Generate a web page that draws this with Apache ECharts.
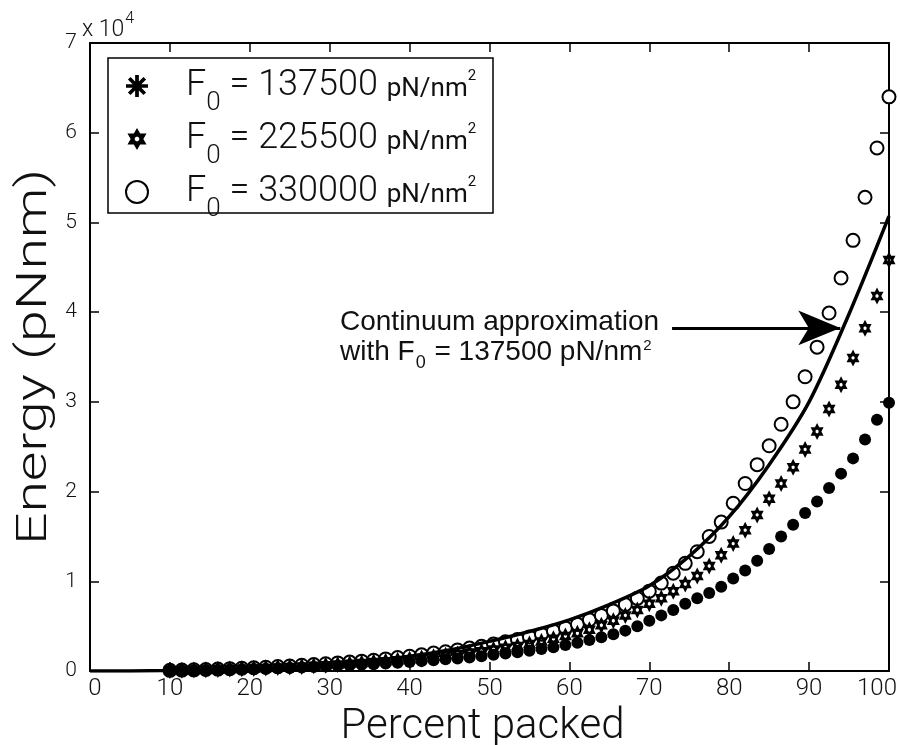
<!DOCTYPE html>
<html>
<head>
<meta charset="utf-8">
<script src="https://cdn.jsdelivr.net/npm/echarts@6/dist/echarts.min.js"></script>
<style>html,body{margin:0;padding:0;background:#fff}#chart{width:900px;height:745px}</style>
</head>
<body>
<div id="chart"></div>
<script>
// ---- data (energy in pNnm) ----
const percentPacked = [10, 11.5, 13, 14.5, 16, 17.5, 19, 20.5, 22, 23.5, 25, 26.5, 28, 29.5, 31, 32.5, 34, 35.5, 37, 38.5, 40,
  41.5, 43, 44.5, 46, 47.5, 49, 50.5, 52, 53.5, 55, 56.5, 58, 59.5, 61, 62.5, 64, 65.5, 67, 68.5, 70,
  71.5, 73, 74.5, 76, 77.5, 79, 80.5, 82, 83.5, 85, 86.5, 88, 89.5, 91, 92.5, 94, 95.5, 97, 98.5, 100];
const energyF137500 = [50, 70, 90, 110, 130, 160, 190, 220, 260, 300, 340, 390, 440, 500, 560, 620, 690, 760, 840, 920, 1000,
  1100, 1200, 1300, 1400, 1500, 1650, 1800, 1950, 2100, 2250, 2450, 2650, 2900, 3150, 3450, 3750, 4100, 4500, 5000, 5600,
  6200, 6800, 7500, 8100, 8700, 9400, 10300, 11200, 12300, 13600, 15000, 16300, 17600, 18900, 20400, 22000, 23700, 25800, 28000, 29900];
const energyF225500 = [60, 80, 110, 140, 170, 210, 250, 290, 340, 390, 450, 510, 580, 650, 730, 810, 900, 1000, 1100, 1200, 1300,
  1450, 1600, 1750, 1900, 2050, 2200, 2400, 2600, 2800, 3000, 3300, 3600, 3900, 4200, 4600, 5100, 5600, 6200, 6800, 7500,
  8100, 8900, 9700, 10600, 11700, 12900, 14200, 15700, 17400, 19200, 20900, 22700, 24700, 26700, 29200, 31900, 34900, 38200, 41800, 45800];
const energyF330000 = [70, 100, 130, 170, 210, 260, 310, 360, 420, 490, 560, 640, 720, 810, 900, 1000, 1100, 1200, 1350, 1500, 1650,
  1800, 2000, 2150, 2350, 2550, 2750, 3000, 3250, 3500, 3800, 4100, 4450, 4800, 5200, 5700, 6200, 6700, 7400, 8100, 8900,
  9800, 10900, 12000, 13300, 15000, 16600, 18700, 20900, 23000, 25100, 27500, 30000, 32800, 36100, 39900, 43800, 48000, 52800, 58300, 64000];
const continuumPercent = [0, 5, 10, 15, 20, 25, 30, 35, 40, 45, 50, 55, 60, 65, 70, 75, 80, 85, 90, 95, 100];
const continuumEnergy = [0, 10, 50, 120, 250, 450, 750, 1150, 1650, 2350, 3300, 4400, 5700, 7400, 9500, 12800, 17200, 23000, 30000, 39800, 50700];
const forceValues = ['137500', '225500', '330000'];
const xTicks = [0, 10, 20, 30, 40, 50, 60, 70, 80, 90, 100];
const yTicks = [0, 10000, 20000, 30000, 40000, 50000, 60000, 70000];
const arrowFrom = [72.85, 38240];
const arrowTo = [93.9, 38240];

const pair = (xs, ys) => xs.map((x, i) => [x, ys[i]]);
const seriesNames = forceValues.map(f => 'F0 = ' + f + ' pN/nm2');

const HEXAGRAM = 'path://M0,-10 L2.887,-5 L8.66,-5 L5.774,0 L8.66,5 L2.887,5 L0,10 L-2.887,5 L-8.66,5 L-5.774,0 L-8.66,-5 L-2.887,-5 Z M0,-2.3 L-2,-1.15 L-2,1.15 L0,2.3 L2,1.15 L2,-1.15 Z';
const ASTERISK = 'path://M-10,-1.7 L10,-1.7 L10,1.7 L-10,1.7 Z M1.7,-10 L1.7,10 L-1.7,10 L-1.7,-10 Z M-5.87,-8.27 L8.27,5.87 L5.87,8.27 L-8.27,-5.87 Z M8.27,-5.87 L-5.87,8.27 L-8.27,5.87 L5.87,-8.27 Z';

const LIGHT = 'Roboto';
const axisCommon = {
  type: 'value',
  splitLine: { show: false },
  axisLine: { show: true, onZero: false, lineStyle: { color: '#000', width: 2 } },
  axisTick: { show: true, inside: true, length: 9, lineStyle: { color: '#000', width: 1.5 } }
};

const chart = echarts.init(document.getElementById('chart'), null, { renderer: 'canvas' });
chart.setOption({
  backgroundColor: '#fff',
  animation: false,
  grid: { left: 90, right: 11, top: 43, bottom: 74, containLabel: false, outerBoundsMode: 'none' },
  xAxis: [
    Object.assign({}, axisCommon, {
      position: 'bottom', min: xTicks[0], max: xTicks[xTicks.length - 1], interval: 10,
      axisLabel: {
        color: '#111', fontFamily: LIGHT, fontWeight: 300, fontSize: 24, margin: 6,
        formatter: v => v === xTicks[0] ? '{l|' + v + '}' : (v === xTicks[xTicks.length - 1] ? '{r|' + v + '}' : String(v)),
        rich: {
          l: { fontFamily: LIGHT, fontWeight: 300, fontSize: 24, color: '#111', padding: [0, 0, 0, 10] },
          r: { fontFamily: LIGHT, fontWeight: 300, fontSize: 24, color: '#111', padding: [0, 24, 0, 0] }
        }
      },
      name: 'Percent packed', nameLocation: 'middle', nameGap: 22,
      nameTextStyle: { color: '#111', fontFamily: LIGHT, fontWeight: 300, fontSize: 42, lineHeight: 44, padding: [0, 14, 0, 0] }
    }),
    Object.assign({}, axisCommon, {
      position: 'top', min: xTicks[0], max: xTicks[xTicks.length - 1], interval: 10, axisLabel: { show: false }
    })
  ],
  yAxis: [
    Object.assign({}, axisCommon, {
      position: 'left', min: yTicks[0], max: yTicks[yTicks.length - 1], interval: 10000,
      axisLabel: { color: '#111', fontFamily: LIGHT, fontWeight: 300, fontSize: 21, margin: 13, formatter: v => String(v / 10000) }
    }),
    Object.assign({}, axisCommon, {
      position: 'right', min: yTicks[0], max: yTicks[yTicks.length - 1], interval: 10000, axisLabel: { show: false }
    })
  ],
  legend: {
    orient: 'vertical', left: 125, top: 56,
    padding: 0, itemGap: -7, itemWidth: 22, itemHeight: 22,
    borderWidth: 0, z: 10,
    data: [
      { name: seriesNames[0], icon: ASTERISK },
      { name: seriesNames[1], icon: HEXAGRAM },
      { name: seriesNames[2], itemStyle: { borderWidth: 3 } }
    ],
    formatter: name => {
      const f = forceValues[seriesNames.indexOf(name)];
      return '{g|}{m|F}{sub|0}{m| = ' + f + ' }{u|pN/nm}{sup|2}';
    },
    textStyle: {
      color: '#111',
      rich: {
        g: { width: 33 },
        m: { fontFamily: LIGHT, fontWeight: 300, fontSize: 36, lineHeight: 44, color: '#111' },
        sub: { fontFamily: LIGHT, fontWeight: 300, fontSize: 26, lineHeight: 20, padding: [34, 0, 0, 0], color: '#111' },
        u: { fontFamily: LIGHT, fontSize: 26, lineHeight: 44, color: '#111', padding: [6, 0, 0, 0] },
        sup: { fontFamily: LIGHT, fontSize: 15, lineHeight: 16, padding: [0, 0, 20, 0], color: '#111' }
      }
    }
  },
  graphic: [
    {
      type: 'rect', z: 5, silent: true,
      shape: { x: 108, y: 58, width: 385, height: 155 },
      style: { fill: '#fff', stroke: '#000', lineWidth: 1.5 }
    },
    {
      type: 'text', left: 82, top: 11, z: 100,
      style: {
        text: '{a|x 10}{s|4}',
        rich: {
          a: { fontFamily: LIGHT, fontWeight: 300, fontSize: 23, fill: '#111', lineHeight: 24 },
          s: { fontFamily: LIGHT, fontWeight: 300, fontSize: 16, fill: '#111', lineHeight: 16, padding: [0, 0, 22, 1] }
        }
      }
    },
    {
      type: 'text', x: 35, y: 357, rotation: Math.PI / 2, scaleX: 1.36, z: 100,
      style: {
        text: 'Energy (pNnm)', fontFamily: LIGHT, fontWeight: 300, fontSize: 42, fill: '#111',
        align: 'center', verticalAlign: 'middle'
      }
    },
    {
      type: 'text', left: 340, top: 308, z: 100,
      style: {
        text: '{a|Continuum approximation}\n{a|with F}{s|0}{a| = 137500 pN/nm}{p|2}',
        rich: {
          a: { fontFamily: 'Liberation Sans', fontSize: 28, fill: '#111', lineHeight: 30 },
          s: { fontFamily: 'Liberation Sans', fontSize: 18, fill: '#111', lineHeight: 14, padding: [22, 1, 0, 1] },
          p: { fontFamily: 'Liberation Sans', fontSize: 15, fill: '#111', lineHeight: 14, padding: [0, 0, 12, 1] }
        }
      }
    }
  ],
  series: [
    {
      name: seriesNames[0], type: 'scatter', xAxisIndex: 0, yAxisIndex: 0, clip: false,
      data: pair(percentPacked, energyF137500),
      symbol: 'circle', symbolSize: 12,
      itemStyle: { color: '#000', opacity: 1 }, z: 4
    },
    {
      name: seriesNames[1], type: 'scatter', xAxisIndex: 0, yAxisIndex: 0, clip: false,
      data: pair(percentPacked, energyF225500),
      symbol: HEXAGRAM, symbolSize: [15, 17], symbolKeepAspect: true,
      itemStyle: { color: '#000', opacity: 1 }, z: 3
    },
    {
      name: seriesNames[2], type: 'scatter', xAxisIndex: 0, yAxisIndex: 0, clip: false,
      data: pair(percentPacked, energyF330000),
      symbol: 'emptyCircle', symbolSize: 13,
      itemStyle: { color: '#000', borderWidth: 2.8, opacity: 1 }, z: 2
    },
    {
      name: 'Continuum approximation', type: 'line', xAxisIndex: 0, yAxisIndex: 0,
      data: pair(continuumPercent, continuumEnergy),
      smooth: 0.3, showSymbol: false, symbol: 'none',
      lineStyle: { color: '#000', width: 3.5 }, z: 5,
      markLine: {
        silent: true, symbol: ['none', 'arrow'], symbolSize: [26, 42],
        label: { show: false },
        lineStyle: { color: '#000', width: 3, type: 'solid' },
        emphasis: { disabled: true },
        data: [[{ coord: arrowFrom }, { coord: arrowTo }]]
      }
    }
  ]
});
</script>
</body>
</html>
